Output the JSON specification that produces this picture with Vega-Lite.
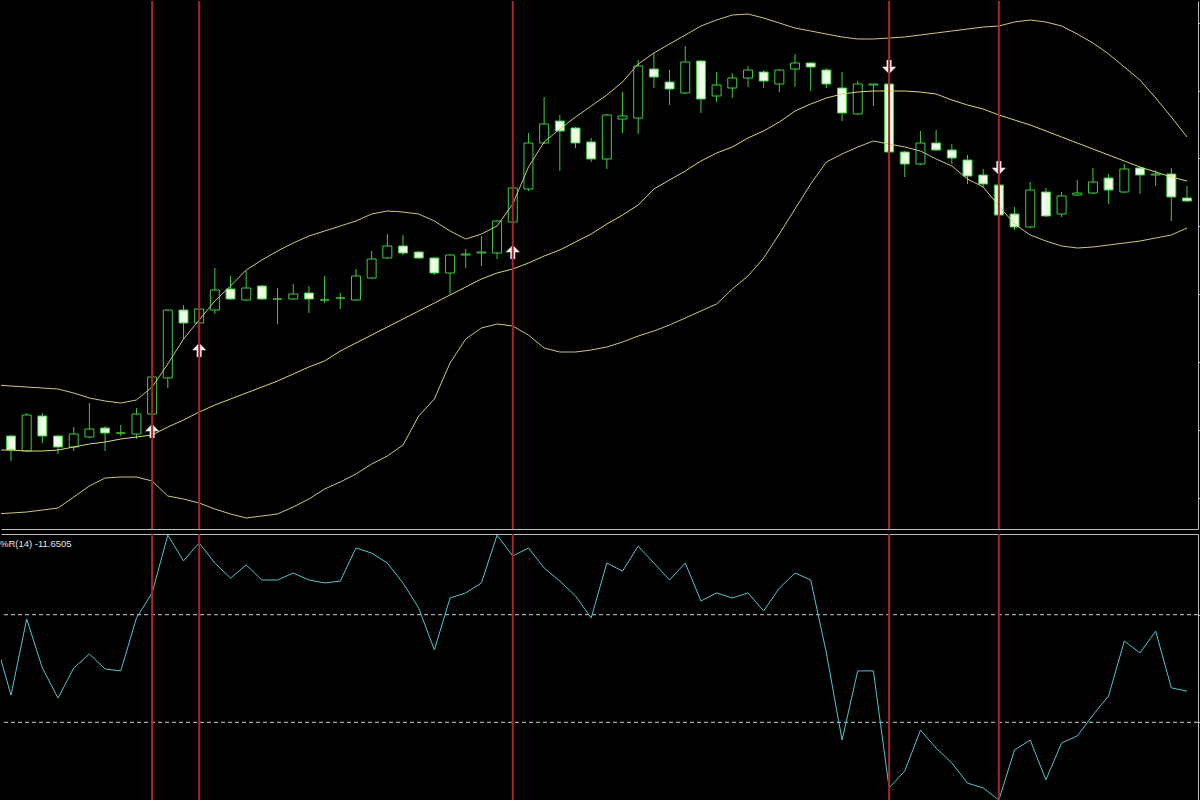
{
 "$schema": "https://vega.github.io/schema/vega-lite/v6.json",
 "background": "#000000",
 "padding": 0,
 "spacing": 3,
 "config": {"view": {"stroke": null}, "axis": {"grid": false, "labels": false, "title": null, "domainColor": "#bdbdbd", "tickColor": "#bdbdbd"}},
 "datasets": {
  "candles": [
{"i":0,"o":93,"h":94,"l":68,"c":79},
{"i":1,"o":78,"h":116,"l":77,"c":114},
{"i":2,"o":113,"h":116,"l":86,"c":93},
{"i":3,"o":93,"h":94,"l":75,"c":82},
{"i":4,"o":82,"h":102,"l":78,"c":95},
{"i":5,"o":92,"h":126,"l":91,"c":100},
{"i":6,"o":101,"h":103,"l":78,"c":96},
{"i":7,"o":96,"h":104,"l":93,"c":96},
{"i":8,"o":95,"h":121,"l":90,"c":115},
{"i":9,"o":115,"h":153,"l":114,"c":152},
{"i":10,"o":151,"h":220,"l":141,"c":219},
{"i":11,"o":219,"h":224,"l":190,"c":206},
{"i":12,"o":206,"h":221,"l":205,"c":220},
{"i":13,"o":219,"h":261,"l":215,"c":239},
{"i":14,"o":240,"h":253,"l":229,"c":230},
{"i":15,"o":229,"h":258,"l":228,"c":241},
{"i":16,"o":243,"h":244,"l":229,"c":230},
{"i":17,"o":230,"h":241,"l":205,"c":230},
{"i":18,"o":230,"h":245,"l":229,"c":235},
{"i":19,"o":236,"h":243,"l":216,"c":230},
{"i":20,"o":229,"h":253,"l":226,"c":229},
{"i":21,"o":231,"h":236,"l":220,"c":231},
{"i":22,"o":229,"h":260,"l":228,"c":253},
{"i":23,"o":251,"h":278,"l":250,"c":270},
{"i":24,"o":271,"h":295,"l":270,"c":283},
{"i":25,"o":283,"h":294,"l":274,"c":276},
{"i":26,"o":277,"h":278,"l":270,"c":271},
{"i":27,"o":271,"h":272,"l":254,"c":256},
{"i":28,"o":256,"h":275,"l":235,"c":274},
{"i":29,"o":274,"h":280,"l":261,"c":275},
{"i":30,"o":276,"h":293,"l":263,"c":277},
{"i":31,"o":276,"h":309,"l":270,"c":308},
{"i":32,"o":307,"h":342,"l":306,"c":341},
{"i":33,"o":340,"h":396,"l":338,"c":386},
{"i":34,"o":386,"h":432,"l":385,"c":405},
{"i":35,"o":408,"h":414,"l":358,"c":398},
{"i":36,"o":401,"h":402,"l":381,"c":386},
{"i":37,"o":387,"h":391,"l":367,"c":370},
{"i":38,"o":370,"h":415,"l":360,"c":414},
{"i":39,"o":410,"h":437,"l":396,"c":413},
{"i":40,"o":411,"h":469,"l":395,"c":463},
{"i":41,"o":460,"h":476,"l":441,"c":452},
{"i":42,"o":447,"h":459,"l":424,"c":440},
{"i":43,"o":436,"h":483,"l":435,"c":467},
{"i":44,"o":468,"h":469,"l":416,"c":430},
{"i":45,"o":433,"h":457,"l":427,"c":444},
{"i":46,"o":441,"h":456,"l":431,"c":451},
{"i":47,"o":451,"h":463,"l":442,"c":459},
{"i":48,"o":457,"h":459,"l":441,"c":448},
{"i":49,"o":445,"h":460,"l":437,"c":459},
{"i":50,"o":460,"h":475,"l":442,"c":466},
{"i":51,"o":466,"h":467,"l":438,"c":462},
{"i":52,"o":459,"h":461,"l":441,"c":445},
{"i":53,"o":441,"h":457,"l":408,"c":416},
{"i":54,"o":415,"h":448,"l":414,"c":445},
{"i":55,"o":444,"h":445,"l":423,"c":445},
{"i":56,"o":445,"h":446,"l":376,"c":377},
{"i":57,"o":377,"h":378,"l":352,"c":365},
{"i":58,"o":365,"h":398,"l":364,"c":386},
{"i":59,"o":386,"h":399,"l":378,"c":379},
{"i":60,"o":379,"h":385,"l":365,"c":371},
{"i":61,"o":369,"h":374,"l":345,"c":353},
{"i":62,"o":354,"h":360,"l":341,"c":345},
{"i":63,"o":344,"h":345,"l":313,"c":314},
{"i":64,"o":315,"h":322,"l":299,"c":302},
{"i":65,"o":302,"h":347,"l":301,"c":339},
{"i":66,"o":337,"h":341,"l":312,"c":313},
{"i":67,"o":315,"h":337,"l":312,"c":333},
{"i":68,"o":334,"h":349,"l":333,"c":336},
{"i":69,"o":336,"h":361,"l":335,"c":347},
{"i":70,"o":351,"h":355,"l":325,"c":339},
{"i":71,"o":337,"h":365,"l":336,"c":360},
{"i":72,"o":361,"h":362,"l":335,"c":354},
{"i":73,"o":354,"h":359,"l":343,"c":355},
{"i":74,"o":355,"h":361,"l":308,"c":332},
{"i":75,"o":331,"h":343,"l":327,"c":328}
  ],
  "bands": [
{"i":-1,"up":144,"mid":79,"lo":15},
{"i":0,"up":143,"mid":79,"lo":16},
{"i":1,"up":142,"mid":78,"lo":17},
{"i":2,"up":141,"mid":78,"lo":19},
{"i":3,"up":140,"mid":79,"lo":21},
{"i":4,"up":136,"mid":82,"lo":32},
{"i":5,"up":131,"mid":85,"lo":43},
{"i":6,"up":128,"mid":87,"lo":51},
{"i":7,"up":126,"mid":90,"lo":52},
{"i":8,"up":129,"mid":92,"lo":52},
{"i":9,"up":142,"mid":94,"lo":48},
{"i":10,"up":165,"mid":102,"lo":33},
{"i":11,"up":190,"mid":109,"lo":30},
{"i":12,"up":209,"mid":117,"lo":26},
{"i":13,"up":228,"mid":124,"lo":20},
{"i":14,"up":243,"mid":130,"lo":15},
{"i":15,"up":259,"mid":136,"lo":11},
{"i":16,"up":269,"mid":142,"lo":13},
{"i":17,"up":278,"mid":148,"lo":15},
{"i":18,"up":286,"mid":155,"lo":22},
{"i":19,"up":293,"mid":162,"lo":30},
{"i":20,"up":298,"mid":168,"lo":40},
{"i":21,"up":303,"mid":178,"lo":47},
{"i":22,"up":308,"mid":186,"lo":55},
{"i":23,"up":315,"mid":194,"lo":65},
{"i":24,"up":318,"mid":202,"lo":73},
{"i":25,"up":317,"mid":210,"lo":84},
{"i":26,"up":315,"mid":218,"lo":113},
{"i":27,"up":308,"mid":226,"lo":130},
{"i":28,"up":298,"mid":234,"lo":166},
{"i":29,"up":290,"mid":242,"lo":190},
{"i":30,"up":295,"mid":250,"lo":201},
{"i":31,"up":303,"mid":256,"lo":205},
{"i":32,"up":325,"mid":260,"lo":203},
{"i":33,"up":362,"mid":266,"lo":194},
{"i":34,"up":387,"mid":273,"lo":181},
{"i":35,"up":400,"mid":279,"lo":177},
{"i":36,"up":412,"mid":287,"lo":177},
{"i":37,"up":423,"mid":295,"lo":179},
{"i":38,"up":434,"mid":305,"lo":182},
{"i":39,"up":447,"mid":314,"lo":187},
{"i":40,"up":465,"mid":324,"lo":193},
{"i":41,"up":476,"mid":340,"lo":198},
{"i":42,"up":485,"mid":349,"lo":204},
{"i":43,"up":494,"mid":358,"lo":211},
{"i":44,"up":503,"mid":368,"lo":218},
{"i":45,"up":509,"mid":376,"lo":225},
{"i":46,"up":514,"mid":382,"lo":240},
{"i":47,"up":515,"mid":391,"lo":253},
{"i":48,"up":511,"mid":398,"lo":271},
{"i":49,"up":506,"mid":407,"lo":295},
{"i":50,"up":501,"mid":418,"lo":320},
{"i":51,"up":498,"mid":425,"lo":345},
{"i":52,"up":495,"mid":431,"lo":367},
{"i":53,"up":492,"mid":435,"lo":375},
{"i":54,"up":490,"mid":437,"lo":382},
{"i":55,"up":490,"mid":438,"lo":388},
{"i":56,"up":491,"mid":438,"lo":385},
{"i":57,"up":492,"mid":438,"lo":382},
{"i":58,"up":494,"mid":437,"lo":378},
{"i":59,"up":496,"mid":435,"lo":370},
{"i":60,"up":498,"mid":429,"lo":363},
{"i":61,"up":500,"mid":424,"lo":350},
{"i":62,"up":502,"mid":420,"lo":342},
{"i":63,"up":503,"mid":414,"lo":323},
{"i":64,"up":507,"mid":409,"lo":305},
{"i":65,"up":509,"mid":404,"lo":294},
{"i":66,"up":507,"mid":398,"lo":288},
{"i":67,"up":503,"mid":392,"lo":283},
{"i":68,"up":495,"mid":386,"lo":281},
{"i":69,"up":486,"mid":380,"lo":282},
{"i":70,"up":475,"mid":374,"lo":284},
{"i":71,"up":462,"mid":368,"lo":286},
{"i":72,"up":449,"mid":362,"lo":288},
{"i":73,"up":431,"mid":357,"lo":291},
{"i":74,"up":412,"mid":352,"lo":294},
{"i":75,"up":392,"mid":348,"lo":301}
  ],
  "wpr": [
{"i":-1,"r":-39.4},{"i":0,"r":-59.9},{"i":1,"r":-31.6},{"i":2,"r":-49.8},{"i":3,"r":-61.0},{"i":4,"r":-49.8},{"i":5,"r":-44.6},{"i":6,"r":-50.2},{"i":7,"r":-50.9},{"i":8,"r":-31.2},{"i":9,"r":-21.9},{"i":10,"r":-0.4},{"i":11,"r":-10.0},{"i":12,"r":-3.3},{"i":13,"r":-10.8},{"i":14,"r":-16.4},{"i":15,"r":-11.5},{"i":16,"r":-17.1},{"i":17,"r":-17.1},{"i":18,"r":-14.5},{"i":19,"r":-17.1},{"i":20,"r":-18.2},{"i":21,"r":-17.5},{"i":22,"r":-5.2},{"i":23,"r":-7.1},{"i":24,"r":-10.8},{"i":25,"r":-18.2},{"i":26,"r":-27.5},{"i":27,"r":-43.1},{"i":28,"r":-23.8},{"i":29,"r":-21.9},{"i":30,"r":-18.2},{"i":31,"r":-0.4},{"i":32,"r":-8.2},{"i":33,"r":-5.2},{"i":34,"r":-12.6},{"i":35,"r":-17.5},{"i":36,"r":-23.0},{"i":37,"r":-31.2},{"i":38,"r":-10.8},{"i":39,"r":-13.8},{"i":40,"r":-4.5},{"i":41,"r":-10.8},{"i":42,"r":-17.1},{"i":43,"r":-10.8},{"i":44,"r":-24.9},{"i":45,"r":-21.9},{"i":46,"r":-23.8},{"i":47,"r":-21.9},{"i":48,"r":-28.6},{"i":49,"r":-20.1},{"i":50,"r":-14.5},{"i":51,"r":-17.1},{"i":52,"r":-44.2},{"i":53,"r":-76.6},{"i":54,"r":-50.9},{"i":55,"r":-50.9},{"i":56,"r":-94.4},{"i":57,"r":-88.1},{"i":58,"r":-72.9},{"i":59,"r":-79.6},{"i":60,"r":-85.1},{"i":61,"r":-92.6},{"i":62,"r":-94.4},{"i":63,"r":-98.9},{"i":64,"r":-80.3},{"i":65,"r":-76.6},{"i":66,"r":-91.4},{"i":67,"r":-77.7},{"i":68,"r":-75.1},{"i":69,"r":-67.3},{"i":70,"r":-60.2},{"i":71,"r":-39.8},{"i":72,"r":-44.2},{"i":73,"r":-36.1},{"i":74,"r":-57.2},{"i":75,"r":-58.4}
  ],
  "signals": [
{"i":9,"dir":"up","p":98},
{"i":12,"dir":"up","p":179},
{"i":32,"dir":"up","p":277},
{"i":56,"dir":"down","p":462},
{"i":63,"dir":"down","p":361}
  ],
  "vlines": [{"i":9},{"i":12},{"i":32},{"i":56},{"i":63}],
  "levels": [{"lvl":-30},{"lvl":-70}]
 },
 "vconcat": [
  {
   "width": 1197,
   "height": 528,
   "layer": [
    {
     "data": {"name": "candles"},
     "mark": {"type": "rule", "color": "#3ccf3c", "strokeWidth": 1},
     "encoding": {
      "x": {"field": "i", "type": "quantitative", "scale": {"domain": [-0.638, 75.7], "nice": false, "zero": false, "padding": 0}, "axis": {"orient": "bottom", "ticks": false, "labels": false, "domain": true}},
      "y": {"field": "l", "type": "quantitative", "scale": {"domain": [0, 528], "nice": false, "zero": false, "padding": 0}, "axis": {"orient": "right", "ticks": true, "tickSize": 3, "domain": true, "values": [31, 65, 99, 133, 167, 201, 235, 269, 303, 337, 371, 404, 438, 472, 506]}},
      "y2": {"field": "h"}
     }
    },
    {
     "data": {"name": "candles"},
     "mark": {"type": "bar", "size": 9, "stroke": "#3ccf3c", "strokeWidth": 1},
     "encoding": {
      "x": {"field": "i", "type": "quantitative"},
      "y": {"field": "o", "type": "quantitative"},
      "y2": {"field": "c"},
      "fill": {"condition": {"test": "datum.c < datum.o", "value": "#ecffe6"}, "value": "#000000"}
     }
    },
    {
     "data": {"name": "bands"},
     "mark": {"type": "line", "color": "#cfc77a", "strokeWidth": 1, "clip": true},
     "encoding": {"x": {"field": "i", "type": "quantitative"}, "y": {"field": "up", "type": "quantitative"}}
    },
    {
     "data": {"name": "bands"},
     "mark": {"type": "line", "color": "#dcd66a", "strokeWidth": 1, "clip": true},
     "encoding": {"x": {"field": "i", "type": "quantitative"}, "y": {"field": "mid", "type": "quantitative"}}
    },
    {
     "data": {"name": "bands"},
     "mark": {"type": "line", "color": "#cfc77a", "strokeWidth": 1, "clip": true},
     "encoding": {"x": {"field": "i", "type": "quantitative"}, "y": {"field": "lo", "type": "quantitative"}}
    },
    {
     "data": {"name": "signals"},
     "mark": {"type": "point", "filled": true, "opacity": 1, "size": 200, "color": "#f6eeee"},
     "encoding": {
      "x": {"field": "i", "type": "quantitative"},
      "y": {"field": "p", "type": "quantitative"},
      "shape": {"field": "dir", "type": "nominal", "scale": {"domain": ["up", "down"], "range": ["M0,-1L1,0.05L0.35,0.05L0.35,1L-0.35,1L-0.35,0.05L-1,0.05Z", "M0,1L1,-0.05L0.35,-0.05L0.35,-1L-0.35,-1L-0.35,-0.05L-1,-0.05Z"]}, "legend": null}
     }
    },
    {
     "data": {"name": "vlines"},
     "mark": {"type": "rule", "color": "#a82626", "strokeWidth": 2},
     "encoding": {"x": {"field": "i", "type": "quantitative"}}
    }
   ]
  },
  {
   "width": 1197,
   "height": 269,
   "layer": [
    {
     "data": {"name": "levels"},
     "mark": {"type": "rule", "color": "#cfcfcf", "strokeWidth": 1, "strokeDash": [4, 3]},
     "encoding": {
      "y": {"field": "lvl", "type": "quantitative", "scale": {"domain": [-100, 0], "nice": false, "zero": false}, "axis": {"orient": "right", "ticks": true, "tickSize": 3, "domain": true, "values": [-30, -70]}}
     }
    },
    {
     "data": {"name": "wpr"},
     "mark": {"type": "line", "color": "#55c5cf", "strokeWidth": 1, "clip": true},
     "encoding": {
      "x": {"field": "i", "type": "quantitative", "scale": {"domain": [-0.638, 75.7], "nice": false, "zero": false, "padding": 0}, "axis": {"orient": "top", "ticks": false, "labels": false, "domain": true}},
      "y": {"field": "r", "type": "quantitative"}
     }
    },
    {
     "data": {"name": "vlines"},
     "mark": {"type": "rule", "color": "#a82626", "strokeWidth": 2},
     "encoding": {"x": {"field": "i", "type": "quantitative"}}
    },
    {
     "data": {"values": [{"label": "%R(14) -11.6505"}]},
     "mark": {"type": "text", "align": "left", "baseline": "top", "dx": -1, "dy": 5, "color": "#e6e6e6", "font": "Liberation Sans", "fontSize": 9.5},
     "encoding": {
      "x": {"datum": -0.638, "type": "quantitative"},
      "y": {"datum": 0, "type": "quantitative"},
      "text": {"field": "label"}
     }
    }
   ]
  }
 ]
}
